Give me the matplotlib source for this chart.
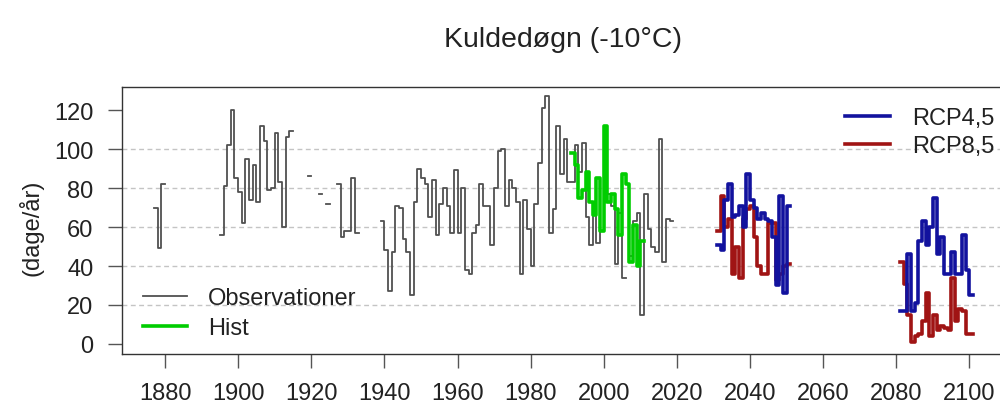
import numpy as np
import matplotlib.pyplot as plt
from matplotlib.lines import Line2D

plt.rcParams['font.family'] = ['Liberation Sans', 'DejaVu Sans']

nan = np.nan

# observationer 1877-2018 (dage/år), nan = mangler
obs_years = np.arange(1877, 2019)
obs = [70, 49, 82,
       nan, nan, nan, nan, nan, nan, nan, nan, nan, nan,
       nan, nan, nan, nan, nan, 56, 81, 102, 120, 85,
       78, 62, 95, 74, 92, 73, 112, 104, 79, 80,
       108, 83, 60, 106, 109, nan, nan, nan, nan, 86,
       nan, nan, 77, nan, 72, nan, nan, 82, 55, 58,
       58, 85, 57, nan, nan, nan, nan, nan, nan, 63,
       48, 27, 47, 71, 70, 54, 47, 25, 73, 90,
       85, 82, 65, 84, 56, 72, 80, 71, 57, 89,
       57, 80, 38, 36, 57, 61, 82, 71, 71, 51,
       80, 99, 100, 71, 84, 80, 73, 36, 74, 59,
       40, 72, 93, 121, 127, 57, 69, 112, 87, 105,
       83, 83, 102, 88, 103, 65, 51, 70, 52, 58,
       84, 77, 71, 41, 67, 34, nan, 45, 63, 67,
       15, 77, 59, 50, 47, 105, 42, 64, 63]

hist_years = np.arange(1991, 2011)
hist = [98, 92, 75, 79, 88, 73, 66, 85, 58, 112,
        73, 77, 69, 56, 87, 82, 42, 61, 40, 53]

rcp_years = np.arange(2031, 2101)
rcp45 = ([51, 48, 74, 82, 65, 66, 71, 60, 87, 74,
          70, 64, 67, 64, 63, 55, 30, 76, 26, 71]
         + [nan] * 30 +
         [17, 17, 46, 17, 21, 53, 63, 51, 60, 75,
          46, 55, 36, 36, 47, 36, 36, 56, 38, 25])
rcp85 = ([58, 76, 60, 64, 36, 50, 34, 64, 69, 71,
          55, 40, 36, 36, 62, 62, 33, 36, 40, 41]
         + [nan] * 30 +
         [42, 31, 15, 1, 4, 5, 12, 26, 4, 15,
          7, 9, 8, 7, 34, 12, 18, 17, 5, 5])


def steps(years, vals):
    # hver værdi tegnes som vandret streg fra år til år+1
    years = np.asarray(years, float)
    vals = np.asarray(vals, float)
    x = np.column_stack([years, years + 1]).ravel()
    y = np.repeat(vals, 2)
    return x, y


W, H = 1000, 410
fig = plt.figure(figsize=(W / 100, H / 100), dpi=100)
ax = fig.add_axes([122 / W, 1 - 355 / H, 880 / W, (355 - 88) / H])
ax.set_xlim(1868.24, 2108.9)
ax.set_ylim(-5.13, 131.8)

for v in [20, 40, 60, 80, 100]:
    ax.axhline(v, color='#c4c4c4', lw=1, ls=(0, (3.5, 2.5)), zorder=0)

ax.plot(*steps(obs_years, obs), color='#505050', lw=1.3)
ax.plot(*steps(hist_years, hist), color='#00cd00', lw=2.6)
ax.plot(*steps(rcp_years, rcp85), color='#a01414', lw=2.6)
ax.plot(*steps(rcp_years, rcp45), color='#12129e', lw=2.6)

ax.set_xticks(range(1880, 2101, 20))
ax.set_yticks(range(0, 121, 20))
ax.tick_params(length=10, width=1, color='#555555', labelsize=17,
               labelcolor='#222222', pad=10.5)
for s in ax.spines.values():
    s.set_color('#333333')
    s.set_linewidth(1)


def fx(x):
    return x / W


def fy(y):
    return 1 - y / H


fig.text(fx(563), fy(47), 'Kuldedøgn (-10°C)', ha='center', va='baseline',
         fontsize=20.5, color='#222222')
fig.text(fx(31), fy(228), '(dage/år)', ha='center', va='center',
         rotation=90, fontsize=17, color='#222222')

# legender
legs = [(143, 187, 208, 297, 'Observationer', '#505050', 1.3),
        (143, 187, 208, 327, 'Hist', '#00cd00', 2.6),
        (845, 890, 912, 117, 'RCP4,5', '#12129e', 2.6),
        (845, 890, 912, 145, 'RCP8,5', '#a01414', 2.6)]
for x0, x1, xt, yl, lab, col, lw in legs:
    fig.add_artist(Line2D([fx(x0), fx(x1)], [fy(yl), fy(yl)], color=col, lw=lw))
    fig.text(fx(xt), fy(yl + 8.4), lab, ha='left', va='baseline',
             fontsize=17, color='#222222')

fig.savefig('out.png', dpi=100)
